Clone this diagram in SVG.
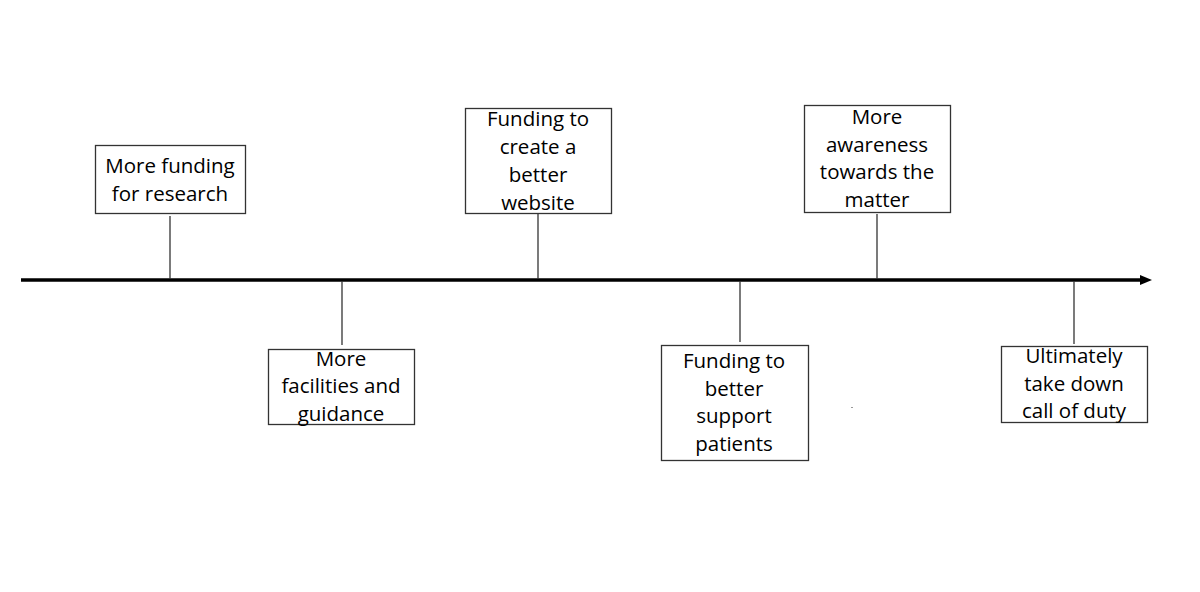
<svg xmlns="http://www.w3.org/2000/svg" width="1200" height="592" viewBox="0 0 1200 592">
<style>
.box{fill:#fff;stroke:#333;stroke-width:1.3}
.lbl{font-family:"Open Sans","Liberation Sans",sans-serif;font-size:20.5px;fill:#000;text-anchor:middle}
.tick{stroke:#333;stroke-width:1.3}
</style>
<defs>
<marker id="ah" markerWidth="12" markerHeight="10" refX="0" refY="5" orient="auto" markerUnits="userSpaceOnUse">
<path d="M0,0 L12,5 L0,10 Z" fill="#000"/>
</marker>
</defs>
<rect width="1200" height="592" fill="#fff"/>
<g id="connectors">
<line x1="21" y1="280" x2="1140" y2="280" stroke="#000" stroke-width="3.5" marker-end="url(#ah)"/>
<line class="tick" x1="170" y1="216" x2="170" y2="279"/>
<line class="tick" x1="342" y1="281" x2="342" y2="345"/>
<line class="tick" x1="538" y1="213" x2="538" y2="279"/>
<line class="tick" x1="740" y1="281" x2="740" y2="342"/>
<line class="tick" x1="877" y1="214" x2="877" y2="279"/>
<line class="tick" x1="1074" y1="281" x2="1074" y2="344"/>
</g>
<g id="n1">
<rect class="box" x="95.5" y="145.5" width="150" height="68"/>
<text class="lbl" x="170" y="173">More funding</text>
<text class="lbl" x="170" y="201">for research</text>
</g>
<g id="n2">
<rect class="box" x="268.5" y="349.5" width="146" height="75"/>
<text class="lbl" x="341" y="366">More</text>
<text class="lbl" x="341" y="393">facilities and</text>
<text class="lbl" x="341" y="421">guidance</text>
</g>
<g id="n3">
<rect class="box" x="465.5" y="108.5" width="146" height="105"/>
<text class="lbl" x="538" y="126">Funding to</text>
<text class="lbl" x="538" y="154">create a</text>
<text class="lbl" x="538" y="182">better</text>
<text class="lbl" x="538" y="210">website</text>
</g>
<g id="n4">
<rect class="box" x="661.5" y="345.5" width="147" height="115"/>
<text class="lbl" x="734" y="368">Funding to</text>
<text class="lbl" x="734" y="396">better</text>
<text class="lbl" x="734" y="423">support</text>
<text class="lbl" x="734" y="451">patients</text>
</g>
<g id="n5">
<rect class="box" x="804.5" y="105.5" width="146" height="107"/>
<text class="lbl" x="877" y="124">More</text>
<text class="lbl" x="877" y="152">awareness</text>
<text class="lbl" x="877" y="179">towards the</text>
<text class="lbl" x="877" y="207">matter</text>
</g>
<g id="n6">
<rect class="box" x="1001.5" y="346.5" width="146" height="76"/>
<text class="lbl" x="1074" y="363">Ultimately</text>
<text class="lbl" x="1074" y="391">take down</text>
<text class="lbl" x="1074" y="418">call of duty</text>
</g>
<rect x="851" y="407" width="2" height="1" fill="#999"/>
</svg>
